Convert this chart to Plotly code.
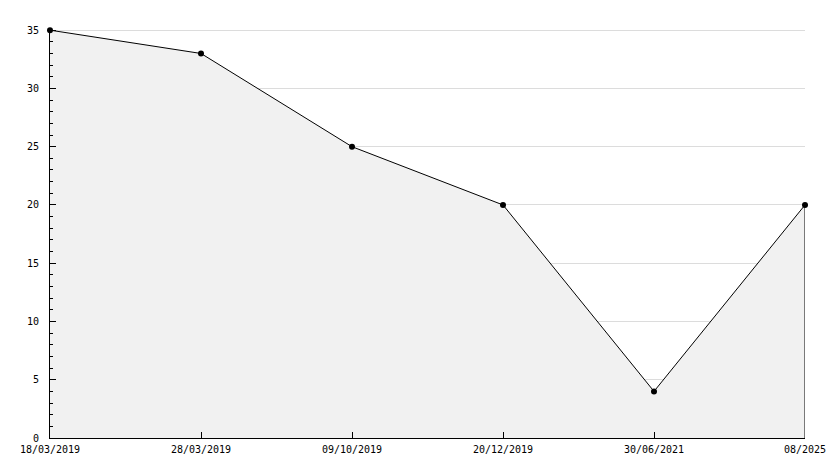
import plotly.graph_objects as go

dates = ["18/03/2019", "28/03/2019", "09/10/2019", "20/12/2019", "30/06/2021", "08/2025"]
values = [35, 33, 25, 20, 4, 20]
y_ticks = [0, 5, 10, 15, 20, 25, 30, 35]

font = dict(family="DejaVu Sans Mono", size=10, color="black")

fig = go.Figure()
fig.add_trace(go.Scatter(
    x=dates, y=values, mode="lines+markers",
    fill="tozeroy", fillcolor="#f1f1f1",
    line=dict(color="black", width=1),
    marker=dict(color="black", size=6, symbol="circle"),
    cliponaxis=False, hoverinfo="x+y",
))
# closing edge of the filled area at the last point
fig.add_trace(go.Scatter(
    x=[dates[-1], dates[-1]], y=[values[-1], 0], mode="lines",
    line=dict(color="black", width=1), hoverinfo="skip", cliponaxis=False,
))

fig.update_layout(
    width=826, height=460,
    margin=dict(l=42, r=29, t=21, b=30, autoexpand=False),
    paper_bgcolor="white", plot_bgcolor="white",
    showlegend=False, font=font,
    xaxis=dict(
        type="category", range=[0, len(dates) - 1],
        showgrid=False, zeroline=False, automargin=False,
        showline=True, linecolor="black", linewidth=1,
        ticks="inside", ticklen=6, tickcolor="black",
        tickfont=font, ticklabelstandoff=2,
    ),
    yaxis=dict(
        range=[0, 35.1], tickvals=y_ticks,
        showgrid=True, gridcolor="#dcdcdc", gridwidth=1,
        zeroline=False, automargin=False,
        showline=True, linecolor="black", linewidth=1,
        ticks="inside", ticklen=6, tickcolor="black",
        minor=dict(ticks="inside", ticklen=3, dtick=1, tickcolor="black", showgrid=False),
        tickfont=font, ticklabelstandoff=8,
    ),
)
fig.write_html("out.html")
